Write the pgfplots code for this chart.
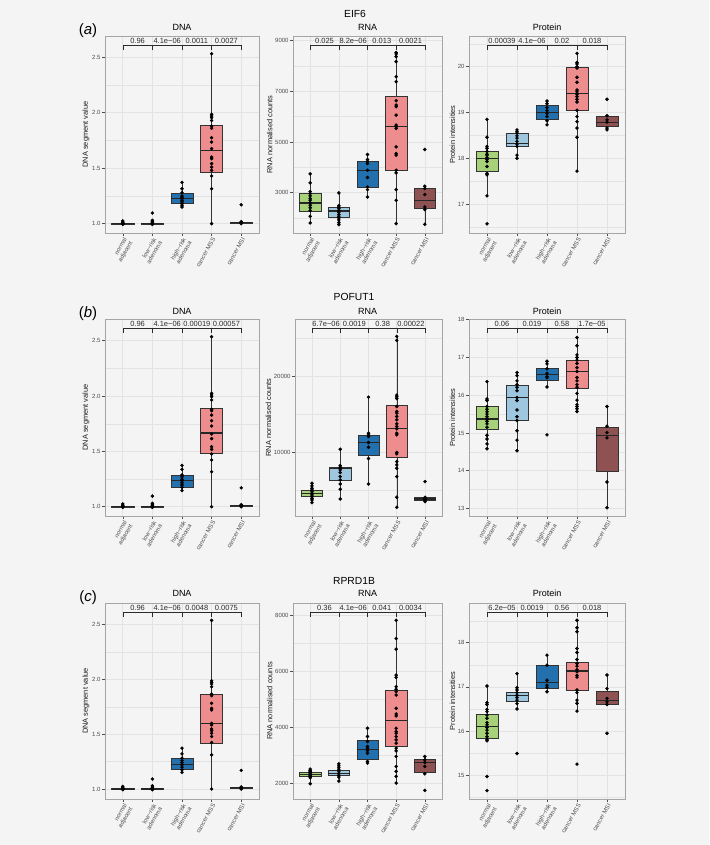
\documentclass[border=0pt]{standalone}
\usepackage{pgfplots}
\pgfplotsset{compat=1.18}
\usepackage{fontspec}
\setmainfont{Liberation Sans}
\usepgfplotslibrary{statistics}

\definecolor{bgcol}{HTML}{F4F4F4}
\definecolor{gridcol}{HTML}{E3E3E3}
\definecolor{bordergray}{HTML}{A5A5A5}
\definecolor{tickgray}{HTML}{4D4D4D}
\definecolor{brcol}{HTML}{2B2B2B}
\definecolor{c1}{HTML}{A8D27A}
\definecolor{c2}{HTML}{9EC7DF}
\definecolor{c3}{HTML}{2270AD}
\definecolor{c4}{HTML}{EE8D8D}
\definecolor{c5}{HTML}{8E5252}

\newcommand\tickfont{\fontsize{6}{6.6}\selectfont}
\newcommand\labfont{\fontsize{7.4}{8}\selectfont}
\newcommand\pvfont{\fontsize{7.5}{8}\selectfont}

\pgfplotsset{
  panel/.style={
    anchor=south west, scale only axis,
    xmin=0.4, xmax=5.6, xtick={1,2,3,4,5},
    xticklabels={{normal\\adjacent},{low−risk\\adenoma},{high−risk\\adenoma},{cancer MSS},{cancer MSI}},
    xticklabel style={rotate=60, anchor=north east, align=right, font=\tickfont, text=tickgray, inner sep=1pt},
    yticklabel style={font=\tickfont, text=tickgray, inner sep=1.5pt},
    ylabel style={font=\labfont, inner sep=1pt, text=black!90},
    scaled y ticks=false,
    tick align=outside, tick pos=left,
    major tick length=2.75pt, minor tick length=0pt,
    tick style={draw=tickgray, line width=0.5pt},
    axis line style={draw=bordergray, line width=0.7pt},
    grid=both,
    major grid style={draw=gridcol, line width=0.55pt},
    minor grid style={draw=gridcol, line width=0.3pt},
    boxplot/draw direction=y,
  },
  bxs/.style={draw=black!80, line width=0.5pt, solid,
    boxplot/box extend=0.75, boxplot/whisker extend=0,
    boxplot/every median/.style={line width=1.1pt, draw=black!85}},
  dots/.style={only marks, mark=*, mark size=1.55pt, black},
}

\newcommand\bx[6]{\addplot[bxs, fill=c#1, boxplot prepared={draw position=#1,
  lower whisker=#2, lower quartile=#3, median=#4, upper quartile=#5, upper whisker=#6}] coordinates {};}

\newcommand\pv[4]{%
  \draw[brcol, line width=0.45pt] (rel axis cs:0.11538,0.929) -- (rel axis cs:0.11538,0.954)
    -- (rel axis cs:0.88462,0.954) -- (rel axis cs:0.88462,0.929);
  \draw[brcol, line width=0.45pt] (rel axis cs:0.30769,0.954) -- (rel axis cs:0.30769,0.929)
    (rel axis cs:0.5,0.954) -- (rel axis cs:0.5,0.929)
    (rel axis cs:0.69231,0.954) -- (rel axis cs:0.69231,0.929);
  \node[font=\pvfont, text=brcol, anchor=base, inner sep=0pt] at (rel axis cs:0.21154,0.963) {#1};
  \node[font=\pvfont, text=brcol, anchor=base, inner sep=0pt] at (rel axis cs:0.40385,0.963) {#2};
  \node[font=\pvfont, text=brcol, anchor=base, inner sep=0pt] at (rel axis cs:0.59615,0.963) {#3};
  \node[font=\pvfont, text=brcol, anchor=base, inner sep=0pt] at (rel axis cs:0.78846,0.963) {#4};
}

\begin{document}
\begin{tikzpicture}
\fill[bgcol] (0pt,0pt) rectangle (709pt,845pt);
\path[use as bounding box] (0pt,0pt) rectangle (709pt,845pt);

% ---------- titles ----------
\node[anchor=base, font=\fontsize{10.3}{12}\selectfont] at (355pt,827.4pt) {EIF6};
\node[anchor=base, font=\fontsize{10.3}{12}\selectfont] at (354pt,544.4pt) {POFUT1};
\node[anchor=base, font=\fontsize{10.3}{12}\selectfont] at (354pt,260.4pt) {RPRD1B};
\node[anchor=base, font=\fontsize{15}{16}\selectfont] at (88pt,810pt) {(\textit{a})};
\node[anchor=base, font=\fontsize{15}{16}\selectfont] at (88pt,527pt) {(\textit{b})};
\node[anchor=base, font=\fontsize{15}{16}\selectfont] at (88pt,243pt) {(\textit{c})};
\foreach \yy in {814,530.5,248} {
  \node[anchor=base, font=\fontsize{9}{10}\selectfont] at (182pt,\yy pt) {DNA};
  \node[anchor=base, font=\fontsize{9}{10}\selectfont] at (367.5pt,\yy pt) {RNA};
  \node[anchor=base, font=\fontsize{9}{10}\selectfont] at (547pt,\yy pt) {Protein};
}

% =================== ROW 1: EIF6 ===================
\begin{axis}[panel, at={(105pt,612pt)}, width=154pt, height=197pt,
  ymin=0.916, ymax=2.692, ytick={1,1.5,2,2.5}, yticklabels={1.0,1.5,2.0,2.5},
  minor ytick={1.25,1.75,2.25}, ylabel={DNA segment value}]
\bx{1}{0.99}{0.995}{1.0}{1.005}{1.024}
\bx{2}{0.994}{0.997}{1.0}{1.003}{1.012}
\bx{3}{1.15}{1.18}{1.23}{1.276}{1.372}
\bx{4}{1.0}{1.46}{1.658}{1.886}{2.532}
\bx{5}{1.0}{1.005}{1.01}{1.015}{1.02}
\addplot[dots] coordinates {(1,1.024)(1,1.012)(1,1.006)(1,1.0)(1,1.0)(1,0.997)(1,0.994)(1,1.003)
 (2,1.096)(2,1.03)(2,1.018)(2,1.012)(2,1.003)(2,1.0)(2,0.997)(2,0.994)
 (3,1.372)(3,1.315)(3,1.28)(3,1.25)(3,1.237)(3,1.225)(3,1.21)(3,1.195)(3,1.18)(3,1.165)(3,1.15)
 (4,2.532)(4,1.985)(4,1.97)(4,1.955)(4,1.93)(4,1.88)(4,1.86)(4,1.775)(4,1.736)(4,1.676)(4,1.60)
 (4,1.586)(4,1.541)(4,1.51)(4,1.48)(4,1.43)(4,1.315)(4,1.0)
 (5,1.17)(5,1.018)(5,1.012)(5,1.006)(5,1.0)};
\pv{0.96}{4.1e−06}{0.0011}{0.0027}
\end{axis}

\begin{axis}[panel, at={(293pt,612pt)}, width=149pt, height=197pt,
  ymin=1404, ymax=9185, ytick={3000,5000,7000,9000}, yticklabels={3000,5000,7000,9000},
  minor ytick={2000,4000,6000,8000}, ylabel={RNA normalised counts}]
\bx{1}{1800}{2274}{2590}{2960}{3739}
\bx{2}{1733}{2037}{2274}{2433}{2987}
\bx{3}{2828}{3198}{3884}{4253}{4504}
\bx{4}{1773}{3897}{5625}{6786}{8528}
\bx{5}{1747}{2367}{2697}{3158}{3251}
\addplot[dots] coordinates {(1,3739)(1,3383)(1,3040)(1,2960)(1,2870)(1,2765)(1,2700)(1,2600)(1,2500)
 (1,2400)(1,2290)(1,2063)(1,1800)
 (2,2987)(2,2486)(2,2433)(2,2367)(2,2287)(2,2221)(2,2129)(2,2063)(2,1997)(2,1918)(2,1813)(2,1733)
 (3,4504)(3,4306)(3,4227)(3,4147)(3,3884)(3,3594)(3,3224)(3,3118)(3,2828)
 (4,8528)(4,8475)(4,8370)(4,8172)(4,7578)(4,7380)(4,6628)(4,6457)(4,6391)(4,6061)(4,5665)(4,5599)
 (4,5533)(4,4807)(4,4544)(4,4478)(4,3884)(4,3778)(4,3118)(4,2696)(4,1773)
 (5,4702)(5,3251)(5,3158)(5,2921)(5,2433)(5,2327)(5,1747)};
\pv{0.025}{8.2e−06}{0.013}{0.0021}
\end{axis}

\begin{axis}[panel, at={(469pt,612pt)}, width=156pt, height=197pt,
  ymin=16.37, ymax=20.67, ytick={17,18,19,20}, yticklabels={17,18,19,20},
  minor ytick={16.5,17.5,18.5,19.5,20.5}, ylabel={Protein intensities}]
\bx{1}{17.18}{17.71}{18.0}{18.146}{18.85}
\bx{2}{18.0}{18.255}{18.33}{18.546}{18.62}
\bx{3}{18.73}{18.86}{19.0}{19.165}{19.25}
\bx{4}{17.72}{19.04}{19.41}{19.99}{20.29}
\bx{5}{18.62}{18.71}{18.79}{18.91}{18.93}
\addplot[dots] coordinates {(1,18.85)(1,18.46)(1,18.26)(1,18.22)(1,18.15)(1,18.09)(1,18.07)(1,18.02)
 (1,17.98)(1,17.93)(1,17.82)(1,17.67)(1,17.64)(1,17.18)(1,16.57)
 (2,18.62)(2,18.58)(2,18.55)(2,18.49)(2,18.44)(2,18.37)(2,18.31)(2,18.26)(2,18.07)(2,18.0)
 (3,19.25)(3,19.19)(3,19.11)(3,19.04)(3,18.98)(3,18.91)(3,18.82)(3,18.73)
 (4,20.29)(4,20.09)(4,20.06)(4,20.0)(4,19.97)(4,19.77)(4,19.66)(4,19.49)(4,19.45)(4,19.40)(4,19.35)
 (4,19.29)(4,19.23)(4,19.05)(4,18.91)(4,18.80)(4,18.66)(4,18.46)(4,17.72)
 (5,19.29)(5,18.93)(5,18.84)(5,18.79)(5,18.66)(5,18.62)};
\pv{0.00039}{4.1e−06}{0.02}{0.018}
\end{axis}

% =================== ROW 2: POFUT1 ===================
\begin{axis}[panel, at={(105pt,329pt)}, width=154pt, height=197pt,
  ymin=0.916, ymax=2.696, ytick={1,1.5,2,2.5}, yticklabels={1.0,1.5,2.0,2.5},
  minor ytick={1.25,1.75,2.25}, ylabel={DNA segment value}]
\bx{1}{0.99}{0.995}{1.0}{1.005}{1.024}
\bx{2}{0.994}{0.997}{1.0}{1.003}{1.012}
\bx{3}{1.145}{1.18}{1.235}{1.283}{1.373}
\bx{4}{1.0}{1.485}{1.666}{1.892}{2.536}
\bx{5}{1.0}{1.005}{1.01}{1.015}{1.02}
\addplot[dots] coordinates {(1,1.024)(1,1.012)(1,1.006)(1,1.0)(1,1.0)(1,0.997)(1,0.994)(1,1.003)
 (2,1.096)(2,1.03)(2,1.018)(2,1.012)(2,1.003)(2,1.0)(2,0.997)(2,0.994)
 (3,1.373)(3,1.337)(3,1.286)(3,1.271)(3,1.247)(3,1.235)(3,1.217)(3,1.196)(3,1.175)(3,1.145)
 (4,2.536)(4,2.024)(4,2.009)(4,1.994)(4,1.964)(4,1.88)(4,1.867)(4,1.828)(4,1.777)(4,1.729)(4,1.657)
 (4,1.615)(4,1.542)(4,1.518)(4,1.476)(4,1.422)(4,1.316)(4,1.0)
 (5,1.17)(5,1.018)(5,1.012)(5,1.006)(5,1.0)};
\pv{0.96}{4.1e−06}{0.00019}{0.00057}
\end{axis}

\begin{axis}[panel, at={(295pt,329pt)}, width=147pt, height=197pt,
  ymin=1586, ymax=27577, ytick={10000,20000}, yticklabels={10000,20000},
  minor ytick={5000,15000,25000}, ylabel={RNA normalised counts}]
\bx{1}{3348}{4229}{4581}{4934}{5903}
\bx{2}{3833}{6256}{7885}{8018}{10396}
\bx{3}{5815}{9559}{11322}{12291}{17269}
\bx{4}{2731}{9295}{13084}{16167}{25286}
\bx{5}{3480}{3612}{3833}{4009}{4053}
\addplot[dots] coordinates {(1,5903)(1,5551)(1,5242)(1,5022)(1,4802)(1,4581)(1,4361)(1,4141)(1,3921)
 (1,3700)(1,3348)
 (2,10396)(2,8238)(2,8018)(2,7841)(2,7665)(2,7313)(2,6784)(2,6344)(2,5815)(2,5110)(2,3833)
 (3,17269)(3,12511)(3,12291)(3,12071)(3,11278)(3,10661)(3,9163)(3,5815)
 (4,25286)(4,24758)(4,17533)(4,17313)(4,17093)(4,16035)(4,15374)(4,15154)(4,14714)(4,14273)
 (4,13745)(4,13392)(4,13084)(4,12511)(4,12291)(4,9956)(4,9780)(4,8767)(4,8326)(4,7886)(4,6784)
 (4,4053)(4,2731)
 (5,6123)(5,4053)(5,3921)(5,3789)(5,3612)(5,3480)};
\pv{6.7e−06}{0.0019}{0.38}{0.00022}
\end{axis}

\begin{axis}[panel, at={(469pt,329pt)}, width=156pt, height=197pt,
  ymin=12.8, ymax=18.02, ytick={13,14,15,16,17,18}, yticklabels={13,14,15,16,17,18},
  minor ytick={13.5,14.5,15.5,16.5,17.5}, ylabel={Protein intensities}]
\bx{1}{14.58}{15.106}{15.37}{15.697}{16.36}
\bx{2}{14.53}{15.33}{15.93}{16.26}{16.60}
\bx{3}{16.22}{16.40}{16.54}{16.71}{16.90}
\bx{4}{15.57}{16.19}{16.62}{16.93}{17.53}
\bx{5}{13.0}{13.99}{14.94}{15.14}{15.70}
\addplot[dots] coordinates {(1,16.36)(1,15.90)(1,15.86)(1,15.70)(1,15.63)(1,15.56)(1,15.50)(1,15.43)
 (1,15.37)(1,15.31)(1,15.24)(1,15.15)(1,14.94)(1,14.84)(1,14.71)(1,14.58)
 (2,16.60)(2,16.52)(2,16.38)(2,16.28)(2,16.21)(2,16.12)(2,15.94)(2,15.86)(2,15.61)(2,15.43)
 (2,15.33)(2,15.06)(2,14.81)(2,14.53)
 (3,16.90)(3,16.83)(3,16.70)(3,16.58)(3,16.49)(3,16.46)(3,16.22)(3,14.95)
 (4,17.53)(4,17.31)(4,17.07)(4,17.0)(4,16.93)(4,16.84)(4,16.73)(4,16.63)(4,16.47)(4,16.38)
 (4,16.28)(4,16.21)(4,16.05)(4,15.87)(4,15.75)(4,15.70)(4,15.64)(4,15.57)
 (5,15.70)(5,15.18)(5,15.01)(5,14.87)(5,13.70)(5,13.02)};
\pv{0.06}{0.019}{0.58}{1.7e−05}
\end{axis}

% =================== ROW 3: RPRD1B ===================
\begin{axis}[panel, at={(105pt,46pt)}, width=154pt, height=196pt,
  ymin=0.909, ymax=2.697, ytick={1,1.5,2,2.5}, yticklabels={1.0,1.5,2.0,2.5},
  minor ytick={1.25,1.75,2.25}, ylabel={DNA segment value}]
\bx{1}{0.99}{0.995}{1.0}{1.005}{1.024}
\bx{2}{0.994}{0.997}{1.0}{1.003}{1.012}
\bx{3}{1.152}{1.176}{1.227}{1.282}{1.373}
\bx{4}{1.0}{1.421}{1.597}{1.864}{2.539}
\bx{5}{1.0}{1.005}{1.01}{1.015}{1.02}
\addplot[dots] coordinates {(1,1.024)(1,1.012)(1,1.006)(1,1.0)(1,1.0)(1,0.997)(1,0.994)(1,1.003)
 (2,1.091)(2,1.03)(2,1.018)(2,1.012)(2,1.003)(2,1.0)(2,0.997)(2,0.994)
 (3,1.373)(3,1.321)(3,1.282)(3,1.261)(3,1.242)(3,1.221)(3,1.2)(3,1.176)(3,1.152)
 (4,2.539)(4,1.988)(4,1.973)(4,1.958)(4,1.933)(4,1.867)(4,1.852)(4,1.782)(4,1.736)(4,1.721)(4,1.6)
 (4,1.585)(4,1.548)(4,1.533)(4,1.509)(4,1.479)(4,1.424)(4,1.312)(4,1.0)
 (5,1.17)(5,1.018)(5,1.012)(5,1.006)(5,1.0)};
\pv{0.96}{4.1e−06}{0.0048}{0.0075}
\end{axis}

\begin{axis}[panel, at={(293pt,46pt)}, width=149pt, height=196pt,
  ymin=1429, ymax=8452, ytick={2000,4000,6000,8000}, yticklabels={2000,4000,6000,8000},
  minor ytick={3000,5000,7000}, ylabel={RNA normalised counts}]
\bx{1}{1976}{2238}{2310}{2381}{2500}
\bx{2}{2071}{2274}{2357}{2476}{2690}
\bx{3}{2714}{2857}{3190}{3548}{3964}
\bx{4}{2000}{3321}{4250}{5321}{7833}
\bx{5}{2333}{2393}{2738}{2845}{2952}
\addplot[dots] coordinates {(1,2500)(1,2452)(1,2429)(1,2405)(1,2381)(1,2333)(1,2286)(1,2262)(1,2238)
 (1,2190)(1,1976)
 (2,2690)(2,2619)(2,2548)(2,2476)(2,2405)(2,2333)(2,2262)(2,2214)(2,2071)
 (3,3964)(3,3667)(3,3488)(3,3310)(3,3250)(3,3167)(3,3071)(3,2774)(3,2714)
 (4,7833)(4,7179)(4,6798)(4,5869)(4,5786)(4,5452)(4,5357)(4,5274)(4,5155)(4,4679)(4,4476)
 (4,4405)(4,3964)(4,3845)(4,3786)(4,3667)(4,3548)(4,3429)(4,3250)(4,3155)(4,2952)(4,2595)
 (4,2417)(4,2238)(4,2000)
 (5,2952)(5,2833)(5,2738)(5,2595)(5,2333)(5,1738)};
\pv{0.36}{4.1e−06}{0.041}{0.0034}
\end{axis}

\begin{axis}[panel, at={(469pt,46pt)}, width=156pt, height=196pt,
  ymin=14.46, ymax=18.9, ytick={15,16,17,18}, yticklabels={15,16,17,18},
  minor ytick={14.5,15.5,16.5,17.5,18.5}, ylabel={Protein intensities}]
\bx{1}{15.78}{15.834}{16.11}{16.384}{17.02}
\bx{2}{16.50}{16.67}{16.81}{16.874}{17.30}
\bx{3}{16.89}{16.98}{17.09}{17.49}{17.72}
\bx{4}{16.45}{16.93}{17.36}{17.55}{18.51}
\bx{5}{16.60}{16.60}{16.69}{16.90}{17.27}
\addplot[dots] coordinates {(1,17.02)(1,16.64)(1,16.60)(1,16.49)(1,16.44)(1,16.36)(1,16.29)(1,16.19)
 (1,16.14)(1,16.08)(1,16.02)(1,15.95)(1,15.87)(1,15.81)(1,15.78)(1,14.97)(1,14.65)
 (2,17.30)(2,16.98)(2,16.93)(2,16.87)(2,16.81)(2,16.76)(2,16.70)(2,16.62)(2,16.50)(2,15.49)
 (3,17.72)(3,17.49)(3,17.15)(3,17.04)(3,16.99)(3,16.89)
 (4,18.51)(4,18.34)(4,18.25)(4,17.87)(4,17.78)(4,17.62)(4,17.53)(4,17.47)(4,17.39)(4,17.34)
 (4,17.26)(4,17.22)(4,16.93)(4,16.87)(4,16.70)(4,16.63)(4,16.45)(4,15.25)
 (5,17.27)(5,16.96)(5,16.74)(5,16.66)(5,16.60)(5,15.95)};
\pv{6.2e−05}{0.0019}{0.56}{0.018}
\end{axis}
\end{tikzpicture}
\end{document}
